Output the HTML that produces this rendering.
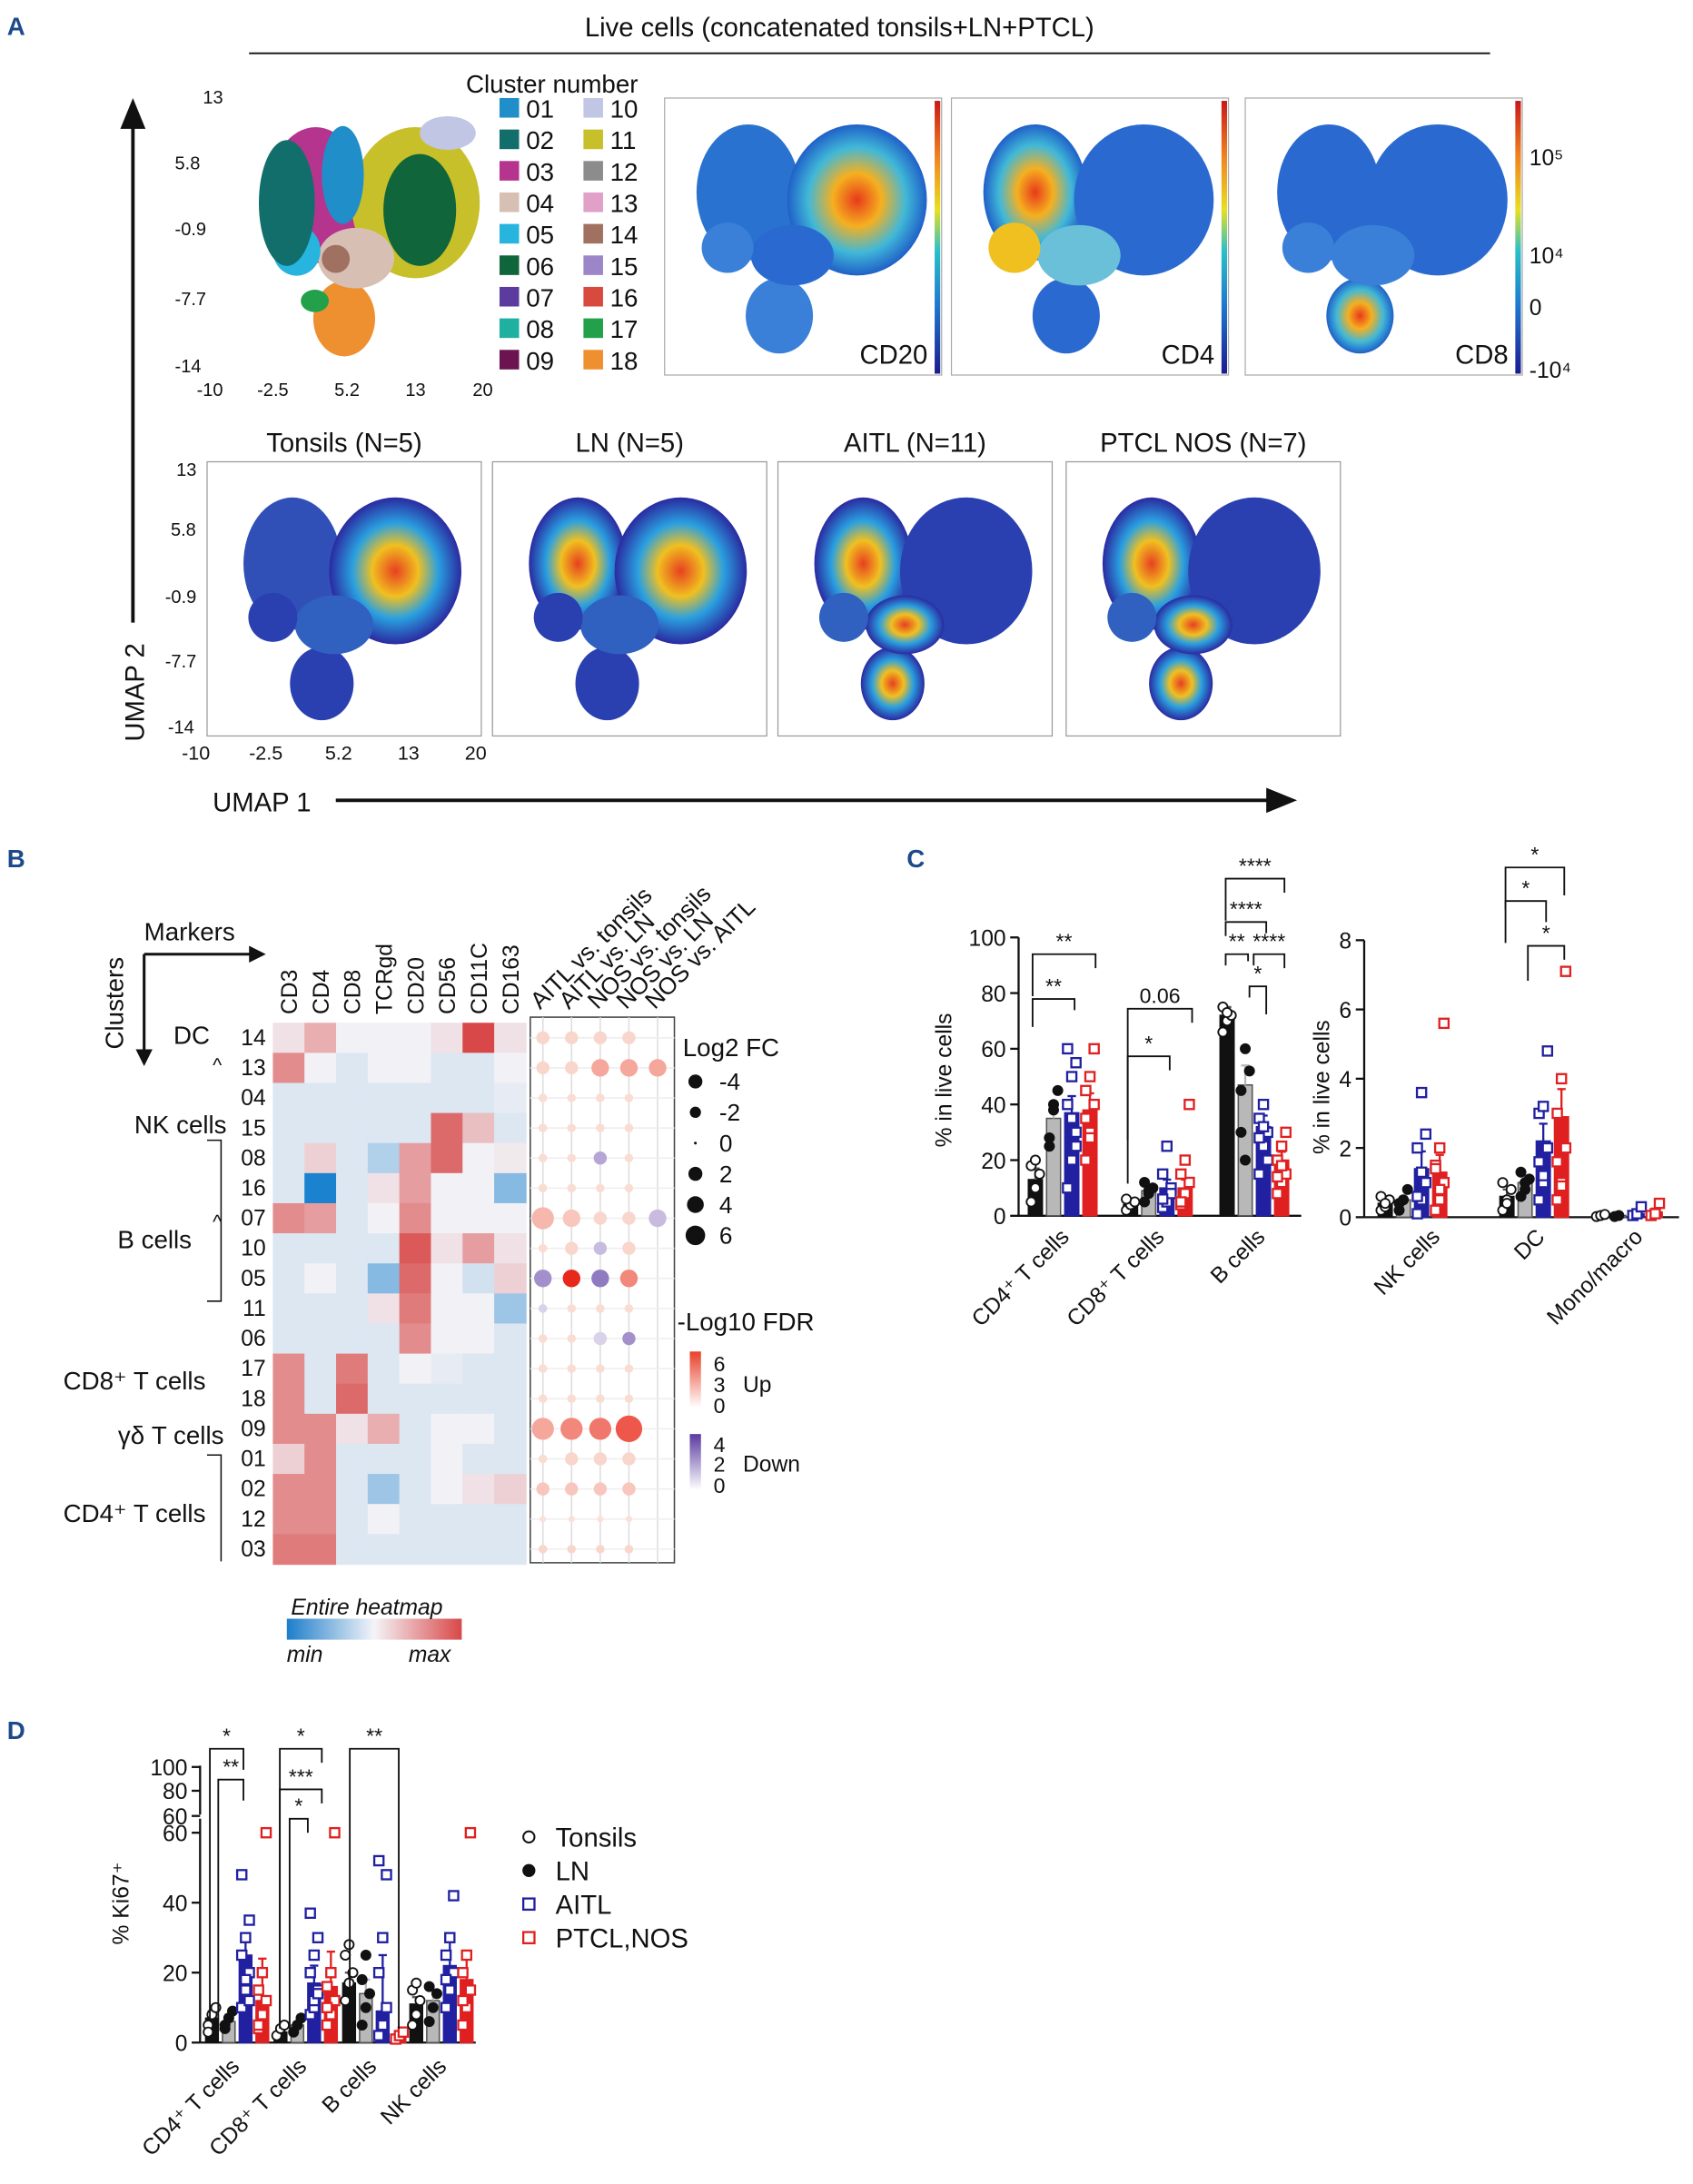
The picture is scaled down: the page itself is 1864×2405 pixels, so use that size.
<!DOCTYPE html>
<html><head><meta charset="utf-8">
<style>
html,body{margin:0;padding:0;background:#fff;}
svg{display:block;font-family:"Liberation Sans",sans-serif;}
</style></head>
<body>
<svg id="fig" width="1864" height="2405" viewBox="0 0 1210 1561" xmlns="http://www.w3.org/2000/svg">
<defs>
<linearGradient id="jet" x1="0" y1="1" x2="0" y2="0">
<stop offset="0" stop-color="#1b1b8f"/><stop offset="0.25" stop-color="#1e78d0"/><stop offset="0.45" stop-color="#29c0c8"/><stop offset="0.6" stop-color="#e8e020"/><stop offset="0.8" stop-color="#f08020"/><stop offset="1" stop-color="#c81818"/></linearGradient>
<linearGradient id="hm" x1="0" x2="1"><stop offset="0" stop-color="#1d7ecb"/><stop offset="0.5" stop-color="#f4f4f8"/><stop offset="1" stop-color="#d94848"/></linearGradient>
<linearGradient id="up" x1="0" y1="1" x2="0" y2="0"><stop offset="0" stop-color="#fff"/><stop offset="1" stop-color="#e8402a"/></linearGradient>
<linearGradient id="down" x1="0" y1="1" x2="0" y2="0"><stop offset="0" stop-color="#fff"/><stop offset="1" stop-color="#5a3aa0"/></linearGradient>
<radialGradient id="warm"><stop offset="0" stop-color="#e83a1a"/><stop offset="0.35" stop-color="#f5b020"/><stop offset="0.7" stop-color="#40b8d8"/><stop offset="1" stop-color="#2060c8"/></radialGradient>
<radialGradient id="cool"><stop offset="0" stop-color="#3a8ad8"/><stop offset="0.7" stop-color="#2a5cc0"/><stop offset="1" stop-color="#2838a8"/></radialGradient>
<radialGradient id="dens"><stop offset="0" stop-color="#e84020"/><stop offset="0.35" stop-color="#f0c020"/><stop offset="0.65" stop-color="#2aa0e0"/><stop offset="1" stop-color="#2a2aa0"/></radialGradient>
</defs>
<g id="root"></g>
</svg>
<script>
// ---------- data ----------
const clusterLabels=["01","02","03","04","05","06","07","08","09","10","11","12","13","14","15","16","17","18"];
const clusterColors=["#1f8ec9","#126e6a","#b5348e","#d8bfb4","#27b4de","#10653a","#5b3c9e","#20b0a0","#6c1450","#c0c6e4","#c8c02a","#8c8c8c","#e0a0c8","#a07060","#9c86c8","#d84a3e","#22a04a","#ef9030"];
const markers=["CD3","CD4","CD8","TCRgd","CD20","CD56","CD11C","CD163"];
const rowClusters=["14","13","04","15","08","16","07","10","05","11","06","17","18","09","01","02","12","03"];
const heat=[
[0.1,0.4,0,0,0,0.1,1,0.1],[0.6,0,-0.1,0,0,-0.1,-0.1,0],[-0.1,-0.1,-0.1,-0.1,-0.1,-0.1,-0.1,-0.05],
[-0.1,-0.1,-0.1,-0.1,-0.1,0.8,0.3,-0.1],[-0.1,0.2,-0.1,-0.3,0.5,0.8,0,0.05],[-0.1,-1,-0.1,0.1,0.5,0,0,-0.5],
[0.6,0.5,-0.1,0,0.6,0,0,0],[-0.1,-0.1,-0.1,-0.1,0.9,0.1,0.5,0.1],[-0.1,0,-0.1,-0.5,0.8,0,-0.15,0.2],
[-0.1,-0.1,-0.1,0.1,0.7,0,0,-0.4],[-0.1,-0.1,-0.1,-0.1,0.6,0,0,-0.1],[0.6,-0.1,0.7,-0.1,0,-0.05,-0.1,-0.1],
[0.6,-0.1,0.8,-0.1,-0.1,-0.1,-0.1,-0.1],[0.6,0.6,0.1,0.4,-0.1,0,0,-0.1],[0.2,0.6,-0.1,-0.1,-0.1,0,-0.1,-0.1],
[0.6,0.6,-0.1,-0.4,-0.1,0,0.1,0.2],[0.6,0.6,-0.1,0,-0.1,-0.1,-0.1,-0.1],[0.7,0.7,-0.1,-0.1,-0.1,-0.1,-0.1,-0.1]];
const comparisons=["AITL vs. tonsils","AITL vs. LN","NOS vs. tonsils","NOS vs. LN","NOS vs. AITL"];
const dotFdr=[
[0.5,0.5,0.5,0.5,0],[0.5,0.5,2,2,2],[0.3,0.3,0.3,0.3,0],[0.3,0.3,0.3,0.3,0],[0.3,0.3,-1.5,0.3,0],
[0.3,0.3,0.3,0.3,0],[1.5,1,0.5,0.5,-1],[0.3,0.5,-1,0.5,0],[-2,6,-2.5,3,0],[-0.5,0.3,0.3,0.3,0],
[0.3,0.3,-0.5,-2,0],[0.3,0.3,0.3,0.3,0],[0.3,0.3,0.3,0.3,0],[2,3,3.5,4.5,0],[0.3,0.5,0.5,0.5,0],
[1,1,1,1,0],[0.2,0.2,0.2,0.2,0],[0.5,0.5,0.5,0.5,0]];
const dotFc=[
[2,2,2,2,0],[2,2,3,3,3],[1,1,1,1,0],[1,1,1,1,0],[1,1,2,1,0],[1,1,1,1,0],[4,3,2,2,3],[1,2,2,2,0],
[3,3,3,3,0],[1,1,1,1,0],[1,1,2,2,0],[1,1,1,1,0],[1,1,1,1,0],[4,4,4,5,0],[1,2,2,2,0],[2,2,2,2,0],[0.5,0.5,0.5,0.5,0],[1,1,1,1,0]];
const groupNames=["Tonsils","LN","AITL","PTCL,NOS"];
const cCats=["CD4⁺ T cells","CD8⁺ T cells","B cells"];
const cVals=[[13,35,37,38],[4,9,10,10],[72,47,32,20]];
const cErr=[[4,6,6,6],[1,2,3,3],[3,7,4,3]];
const cPts=[[[5,10,15,18,20],[25,38,45,28,40],[10,20,30,40,50,55,60,35,25],[20,30,40,45,50,60,35,28]],
[[2,4,5,6],[5,8,10,12,9],[3,5,10,15,25,8,6],[4,8,12,15,20,40,5]],
[[66,70,72,75,73],[30,60,52,45,20],[15,25,30,35,40,20,28,32],[8,12,15,20,25,30,14,18]]];
const c2Cats=["NK cells","DC","Mono/macro"];
const c2Vals=[[0.4,0.5,1.4,1.3],[0.6,1.0,2.2,2.9],[0.05,0.05,0.1,0.15]];
const c2Err=[[0.1,0.1,0.5,0.5],[0.2,0.2,0.5,0.8],[0.02,0.02,0.05,0.1]];
const c2Pts=[[[0.2,0.3,0.5,0.6,0.4],[0.2,0.5,0.8,0.4],[0.1,0.5,1,2,3.6,2.4,0.6,1.3],[0.2,0.5,1,1.5,2,5.6,1.4,0.8]],
[[0.2,0.5,0.8,1,0.4],[0.6,1,1.1,1.3,0.8],[0.5,1,2,3,3.2,4.8,1.6,1.2],[0.5,1,2,3,4,7.1,1.6,0.9]],
[[0.02,0.05,0.08],[0.02,0.05],[0.05,0.1,0.3],[0.05,0.1,0.4]]];
const dCats=["CD4⁺ T cells","CD8⁺ T cells","B cells","NK cells"];
const dVals=[[7,6,25,12],[3,5,17,16],[17,14,9,2],[11,12,22,18]];
const dErr=[[2,2,6,12],[1,1,5,10],[3,4,16,1],[2,3,8,6]];
const dPts=[[[5,8,10,3],[4,7,9,5],[10,15,20,25,30,35,48,18,12],[4,8,12,15,20,66,5]],
[[2,4,5],[3,5,7],[8,10,15,20,25,30,37,12,14],[5,8,12,16,20,70,10]],
[[12,17,20,25,28],[5,10,14,18,25],[2,5,10,20,30,48,52],[1,2,3]],
[[5,8,12,15,17],[6,10,14,16],[10,15,20,25,30,42,18],[5,10,15,20,25,66,12]]];
const ptColors=["#fff","#111","#2020a0","#e02020"];
const barFills=["#111","#b8b8b8","#2020a0","#e02020"];

// ---------- helpers ----------
const NS="http://www.w3.org/2000/svg";
const root=document.getElementById('root');
function el(tag,attrs,parent){const e=document.createElementNS(NS,tag);for(const k in attrs)e.setAttribute(k,attrs[k]);(parent||root).appendChild(e);return e;}
function txt(x,y,s,size,extra){const t=el('text',Object.assign({x:x,y:y,'font-size':size||14,fill:'#111'},extra||{}));t.textContent=s;return t;}
function lerpC(a,b,t){const pa=[parseInt(a.slice(1,3),16),parseInt(a.slice(3,5),16),parseInt(a.slice(5,7),16)],pb=[parseInt(b.slice(1,3),16),parseInt(b.slice(3,5),16),parseInt(b.slice(5,7),16)];return 'rgb('+pa.map((v,i)=>Math.round(v+(pb[i]-v)*t)).join(',')+')';}
function heatColor(v){return v>=0?lerpC('#f2f2f6','#d84848',Math.min(1,v)):lerpC('#f2f2f6','#1a82cf',Math.min(1,-v));}

// ---------- panel labels ----------
[["A",5,25],["B",5,620],["C",648,620],["D",5,1243]].forEach(p=>{const t=txt(p[1],p[2],p[0],18,{'font-weight':'bold',fill:'#1d4a8a'});});

// ---------- Panel A ----------
const ttl=txt(600,26,"Live cells (concatenated tonsils+LN+PTCL)",19,{'text-anchor':'middle'});

el('line',{x1:178,y1:38,x2:1065,y2:38,stroke:'#111','stroke-width':1.2});
function umapShape(g,x,y,w,h,fills){
  const parts=[[0.28,0.33,0.2,0.27],[0.7,0.36,0.27,0.3],[0.4,0.82,0.13,0.15],[0.45,0.58,0.16,0.12],[0.2,0.55,0.1,0.1]];
  parts.forEach((p,i)=>{el('ellipse',{cx:x+p[0]*w,cy:y+p[1]*h,rx:p[2]*w,ry:p[3]*h,fill:fills[i%fills.length]},g);});
}
const gc=el('g',{});
umapShape(gc,178,80,170,180,["#b5348e","#c8c02a","#ef9030","#d8bfb4","#27b4de"]);
el('ellipse',{cx:205,cy:145,rx:20,ry:45,fill:"#126e6a"},gc);el('ellipse',{cx:300,cy:150,rx:26,ry:40,fill:"#10653a"},gc);
el('ellipse',{cx:245,cy:125,rx:15,ry:35,fill:"#1f8ec9"},gc);el('ellipse',{cx:240,cy:185,rx:10,ry:10,fill:"#a07060"},gc);
el('ellipse',{cx:225,cy:215,rx:10,ry:8,fill:"#22a04a"},gc);el('ellipse',{cx:320,cy:95,rx:20,ry:12,fill:"#c0c6e4"},gc);
txt(145,74,"13",13);txt(125,121,"5.8",13);txt(125,168,"-0.9",13);txt(125,218,"-7.7",13);txt(125,266,"-14",13);
[["-10",150],["-2.5",195],["5.2",248],["13",297],["20",345]].forEach(t=>txt(t[1],283,t[0],13,{'text-anchor':'middle'}));
txt(333,66,"Cluster number",18);
clusterLabels.forEach((c,i)=>{const col=i<9?0:1,r=i%9;const x=357+col*60,y=70+r*22.5;
  const sw=el('rect',{x:x,y:y,width:14,height:14,fill:clusterColors[i]});
  txt(x+19,y+14,c,18);});
[["CD20",475,"warm"],["CD4",680,"warm"],["CD8",890,"cool"]].forEach((m,k)=>{
  const g=el('g',{});
  el('rect',{x:m[1],y:70,width:198,height:198,fill:'#fff',stroke:'#aaa','stroke-width':0.8},g);
  const f=k==0?["#2a72d0","url(#warm)","#3a80d8","#2a6ad0","#3a80d8"]:k==1?["url(#warm)","#2a6ad0","#2a6ad0","#6ac0d8","#f0c020"]:["#2a6ad0","#2a6ad0","url(#warm)","#3a80d8","#3a80d8"];
  umapShape(g,m[1]+8,78,185,180,f);
  el('rect',{x:m[1]+193,y:72,width:4,height:195,fill:'url(#jet)'},g);
  txt(m[1]+188,260,m[0],19,{'text-anchor':'end'});});
txt(1093,118,"10⁵",16);txt(1093,188,"10⁴",16);txt(1093,225,"0",16);txt(1093,270,"-10⁴",16);
[["Tonsils (N=5)",148],["LN (N=5)",352],["AITL (N=11)",556],["PTCL  NOS (N=7)",762]].forEach((d,k)=>{
  const g=el('g',{});
  el('rect',{x:d[1],y:330,width:196,height:196,fill:'#fff',stroke:'#999','stroke-width':0.8},g);
  const f=k==0?["#3050b8","url(#dens)","#2a40b0","#3060c0","#2a40b0"]:k==1?["url(#dens)","url(#dens)","#2a40b0","#3060c0","#2a40b0"]:["url(#dens)","#2a40b0","url(#dens)","url(#dens)","#3060c0"];
  umapShape(g,d[1]+12,345,175,175,f);
  txt(d[1]+98,323,d[0],19,{'text-anchor':'middle'});});
txt(126,340,"13",13);txt(122,383,"5.8",13);txt(118,431,"-0.9",13);txt(118,477,"-7.7",13);txt(120,524,"-14",13);
[["-10",140],["-2.5",190],["5.2",242],["13",292],["20",340]].forEach(t=>txt(t[1],543,t[0],14,{'text-anchor':'middle'}));
el('line',{x1:95,y1:75,x2:95,y2:445,stroke:'#111','stroke-width':2.5});el('path',{d:'M86,92 L95,70 L104,92 Z',fill:'#111'});
txt(103,530,"UMAP 2",19,{transform:'rotate(-90 103 530)'});
txt(152,580,"UMAP 1",19);el('line',{x1:240,y1:572,x2:910,y2:572,stroke:'#111','stroke-width':2.5});el('path',{d:'M905,563 L927,572 L905,581 Z',fill:'#111'});

// ---------- Panel B ----------
const hx=195,hy=731,cw=22.6,rh=21.5;
markers.forEach((m,j)=>txt(hx+cw*j+cw/2+6,hy-6,m,16,{transform:'rotate(-90 '+(hx+cw*j+cw/2+6)+' '+(hy-6)+')'}));
heat.forEach((row,i)=>row.forEach((v,j)=>{const r=el('rect',{x:hx+j*cw,y:hy+i*rh,width:cw+0.5,height:rh+0.5,fill:heatColor(v)});
  }));
rowClusters.forEach((c,i)=>txt(hx-5,hy+i*rh+16,c,16,{'text-anchor':'end'}));
[["DC",150,746],["NK cells",162,810],["B cells",137,892],["CD8⁺ T cells",147,993],["γδ T cells",160,1032],["CD4⁺ T cells",147,1088]].forEach(l=>txt(l[1],l[2],l[0],18,{'text-anchor':'end'}));
txt(152,766,"^",14);txt(152,878,"^",14);
el('path',{d:'M148,815 L158,815 L158,930 L148,930',fill:'none',stroke:'#111'});
el('path',{d:'M148,1040 L158,1040 L158,1116',fill:'none',stroke:'#111'});
txt(103,672,"Markers",18);el('path',{d:'M103,682 L180,682',stroke:'#111','stroke-width':2});el('path',{d:'M178,676 L190,682 L178,688Z',fill:'#111'});
txt(88,750,"Clusters",18,{transform:'rotate(-90 88 750)'});el('path',{d:'M103,682 L103,752',stroke:'#111','stroke-width':2});el('path',{d:'M97,750 L103,762 L109,750Z',fill:'#111'});
const dx=388,dcw=20.5;
el('rect',{x:379,y:727,width:103,height:390,fill:'#fff',stroke:'#444','stroke-width':1});
for(let j=0;j<5;j++)el('line',{x1:dx+j*dcw,y1:727,x2:dx+j*dcw,y2:1117,stroke:'#ddd'});
rowClusters.forEach((c,i)=>el('line',{x1:379,y1:hy+i*rh+rh/2,x2:482,y2:hy+i*rh+rh/2,stroke:'#eee'}));
comparisons.forEach((c,j)=>txt(dx+j*dcw-2,722,c,17,{transform:'rotate(-45 '+(dx+j*dcw-2)+' 722)'}));
dotFdr.forEach((row,i)=>row.forEach((v,j)=>{if(dotFc[i][j]===0)return;
  const col=v>=0?lerpC('#fbe6dc','#e8281a',Math.min(1,v/6)):lerpC('#ece6f4','#5a3aa0',Math.min(1,-v/4));
  const c=el('circle',{cx:dx+j*dcw,cy:hy+i*rh+rh/2,r:1.5+dotFc[i][j]*1.6,fill:col});
  }));
txt(488,755,"Log2 FC",18);
[["-4",5],["-2",4],["0",1],["2",5],["4",6],["6",7]].forEach((s,k)=>{el('circle',{cx:497,cy:773+k*22,r:s[1],fill:'#111'});txt(514,779+k*22,s[0],17);});
txt(484,951,"-Log10 FDR",18);
el('rect',{x:493,y:966,width:8,height:40,fill:'url(#up)'});txt(510,980,"6",15);txt(510,995,"3",15);txt(510,1010,"0",15);txt(531,995,"Up",16);
el('rect',{x:493,y:1025,width:8,height:40,fill:'url(#down)'});txt(510,1038,"4",15);txt(510,1052,"2",15);txt(510,1067,"0",15);txt(531,1052,"Down",16);
el('rect',{x:205,y:1157,width:125,height:15,fill:'url(#hm)'});
txt(208,1154,"Entire heatmap",16,{'font-style':'italic'});txt(205,1188,"min",16,{'font-style':'italic'});txt(292,1188,"max",16,{'font-style':'italic'});

// ---------- bar chart helper ----------
function barChart(opt){
  const {x0,y0,h,max,cats,vals,errs,pts,groupX,bw,name}=opt;
  const ys=v=>y0-v/max*h;
  const g=el('g',{});
  cats.forEach((c,ci)=>{vals[ci].forEach((v,k)=>{const bx=groupX[ci]+k*(bw+3);
    const b=el('rect',{x:bx,y:ys(v),width:bw,height:y0-ys(v),fill:barFills[k],stroke:barFills[k]==='#b8b8b8'?'#555':barFills[k],'stroke-width':1},g);
    
    el('line',{x1:bx+bw/2,y1:ys(v),x2:bx+bw/2,y2:ys(v+errs[ci][k]),stroke:barFills[k]==='#111'?'#555':barFills[k],'stroke-width':1.5},g);
    el('line',{x1:bx+bw/2-3,y1:ys(v+errs[ci][k]),x2:bx+bw/2+3,y2:ys(v+errs[ci][k]),stroke:barFills[k]==='#111'?'#555':barFills[k],'stroke-width':1.5},g);
    pts[ci][k].forEach((p,pi)=>{const px=bx+bw/2+((pi%3)-1)*bw*0.3,py=ys(Math.min(p,max));
      if(k<2){const d=el('circle',{cx:px,cy:py,r:3.3,fill:ptColors[k],stroke:'#111','stroke-width':1.2},g);}
      else{const d=el('rect',{x:px-3.3,y:py-3.3,width:6.6,height:6.6,fill:'#fff',stroke:ptColors[k],'stroke-width':1.5},g);}});
  });});
  return ys;
}
function axisY(x,y0,h,max,ticks){
  el('line',{x1:x,y1:y0,x2:x,y2:y0-h,stroke:'#111','stroke-width':1.5});
  ticks.forEach(t=>{const y=y0-t/max*h;el('line',{x1:x-6,y1:y,x2:x,y2:y,stroke:'#111','stroke-width':1.5});txt(x-9,y+6,String(t),16,{'text-anchor':'end'});});
}
axisY(728,869,199,100,[0,20,40,60,80,100]);
el('line',{x1:728,y1:869,x2:930,y2:869,stroke:'#111','stroke-width':1.5});
txt(680,820,"% in live cells",16,{transform:'rotate(-90 680 820)'});
barChart({x0:728,y0:869,h:199,max:100,cats:cCats,vals:cVals,errs:cErr,pts:cPts,groupX:[735,803,872],bw:10,name:'chart-c-left'});
cCats.forEach((c,i)=>txt([765,833,905][i],885,c,16,{'text-anchor':'end',transform:'rotate(-45 '+[765,833,905][i]+' 885)'}));
function bracket(x1,x2,y,d1,d2,label){el('path',{d:`M${x1},${y+d1} L${x1},${y} L${x2},${y} L${x2},${y+d2}`,fill:'none',stroke:'#111','stroke-width':1.2});txt((x1+x2)/2,y-4,label,15,{'text-anchor':'middle'});}
bracket(738,783,682,30,10,"**");bracket(738,768,714,20,8,"**");
bracket(806,852,721,125,10,"0.06");bracket(806,836,755,60,10,"*");
bracket(876,918,628,30,10,"****");bracket(876,905,659,10,8,"****");bracket(876,892,682,8,5,"**");bracket(896,918,682,8,10,"****");bracket(893,905,705,8,20,"*");
axisY(975,870,198,8,[0,2,4,6,8]);
el('line',{x1:975,y1:870,x2:1200,y2:870,stroke:'#111','stroke-width':1.5});
txt(950,825,"% in live cells",16,{transform:'rotate(-90 950 825)'});
barChart({x0:975,y0:870,h:198,max:8,cats:c2Cats,vals:c2Vals,errs:c2Err,pts:c2Pts,groupX:[985,1072,1139],bw:10,name:'chart-c-right'});
c2Cats.forEach((c,i)=>txt([1030,1105,1175][i],885,c,16,{'text-anchor':'end',transform:'rotate(-45 '+[1030,1105,1175][i]+' 885)'}));
bracket(1076,1118,620,30,20,"*");bracket(1076,1105,644,30,15,"*");bracket(1092,1118,676,25,10,"*");
el('line',{x1:143,y1:1460,x2:143,y2:1300,stroke:'#111','stroke-width':1.5});el('line',{x1:143,y1:1297,x2:143,y2:1262,stroke:'#111','stroke-width':1.5});
[0,20,40,60].forEach(t=>{const y=1460-t/20*50;el('line',{x1:137,y1:y,x2:143,y2:y,stroke:'#111','stroke-width':1.5});txt(134,y+6,String(t),16,{'text-anchor':'end'});});
[[60,1298],[80,1280],[100,1263]].forEach(t=>{el('line',{x1:137,y1:t[1],x2:143,y2:t[1],stroke:'#111','stroke-width':1.5});txt(134,t[1]+6,String(t[0]),16,{'text-anchor':'end'});});
el('line',{x1:143,y1:1460,x2:340,y2:1460,stroke:'#111','stroke-width':1.5});
txt(92,1390,"% Ki67⁺",16,{transform:'rotate(-90 92 1390)'});
barChart({x0:143,y0:1460,h:150,max:60,cats:dCats,vals:dVals,errs:dErr,pts:dPts,groupX:[147,196,245,293],bw:9,name:'chart-d'});
dCats.forEach((c,i)=>txt([172,220,270,320][i],1478,c,16,{'text-anchor':'end',transform:'rotate(-45 '+[172,220,270,320][i]+' 1478)'}));
bracket(150,174,1250,195,15,"*");bracket(156,174,1272,180,15,"**");
bracket(200,230,1250,200,10,"*");bracket(200,230,1279,170,10,"***");bracket(207,220,1300,150,10,"*");
bracket(250,285,1250,200,200,"**");
groupNames.forEach((n,k)=>{const y=1313+k*24;
  if(k<2){const c=el('circle',{cx:378,cy:y,r:4,fill:ptColors[k],stroke:'#111','stroke-width':1.3});}
  else{const c=el('rect',{x:374,y:y-4,width:8,height:8,fill:'#fff',stroke:ptColors[k],'stroke-width':1.5});}
  const t=txt(397,y+7,n,19);});
</script>
</body></html>
